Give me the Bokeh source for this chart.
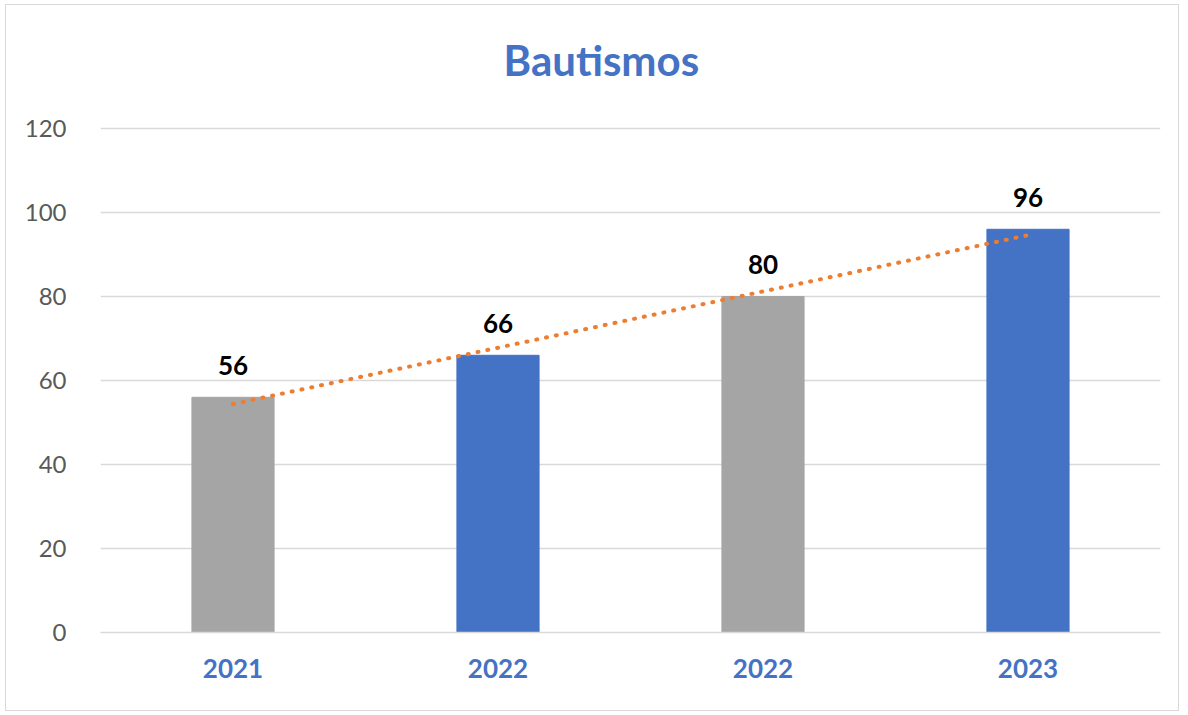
from bokeh.plotting import figure
from bokeh.models import ColumnDataSource, FixedTicker, Range1d
from bokeh.embed import file_html
from bokeh.resources import INLINE
from bokeh.core.properties import value
import numpy as np

title = "Bautismos"
categories = ["2021", "2022", "2022", "2023"]
values = [56, 66, 80, 96]
colors = ["#A5A5A5", "#4472C4", "#A5A5A5", "#4472C4"]
y_ticks = [0, 20, 40, 60, 80, 100, 120]

xs = list(range(1, len(categories) + 1))
src = ColumnDataSource(dict(x=xs, top=values, color=colors, label=[str(v) for v in values]))

# frame extends above the 120 gridline so the title can sit inside it
p = figure(width=1174, height=707, output_backend="svg", toolbar_location=None,
           x_range=Range1d(0.5, 4.5), y_range=Range1d(0, 144.52),
           min_border_left=94, min_border_right=20, min_border_top=20, min_border_bottom=80)
p.styles = {"border": "1px solid #d9d9d9", "margin-left": "5px", "margin-top": "4px"}
p.outline_line_color = None
p.background_fill_color = "white"
p.border_fill_color = "white"

p.vbar(x="x", top="top", width=0.31, color="color", source=src)

# linear trend line
coef = np.polyfit(xs, values, 1)
tx = np.array([xs[0], xs[-1]], dtype=float)
p.line(tx, np.polyval(coef, tx), line_color="#ED7D31", line_width=4, line_dash="1 9", line_cap="round")

p.text(x="x", y="top", text="label", source=src, text_align="center", text_baseline="bottom",
       y_offset=-22, text_font=value("Lato"), text_font_style="bold", text_font_size="26px",
       text_color="black")

# chart title
p.text(x=[2.39], y=[136.2], text=[title], text_align="center", text_baseline="middle",
       text_font=value("Lato"), text_font_style="bold", text_font_size="42px", text_color="#4472C4")

p.xaxis.ticker = FixedTicker(ticks=xs)
p.xaxis.major_label_overrides = {x: c for x, c in zip(xs, categories)}
p.xaxis.major_label_text_font = "Lato"
p.xaxis.major_label_text_font_style = "bold"
p.xaxis.major_label_text_font_size = "26px"
p.xaxis.major_label_text_color = "#4472C4"
p.xaxis.major_label_standoff = 20
p.xaxis.axis_line_color = "#d9d9d9"
p.xaxis.axis_line_width = 1.5
p.xaxis.major_tick_line_color = None
p.xaxis.minor_tick_line_color = None

p.yaxis.ticker = FixedTicker(ticks=y_ticks)
p.yaxis.major_label_text_font = "Lato"
p.yaxis.major_label_text_font_size = "24px"
p.yaxis.major_label_text_color = "#595959"
p.yaxis.major_label_standoff = 28
p.yaxis.axis_line_color = None
p.yaxis.major_tick_line_color = None
p.yaxis.minor_tick_line_color = None

p.xgrid.grid_line_color = None
p.ygrid.grid_line_color = "#d9d9d9"
p.ygrid.grid_line_width = 1.5

open("out.html", "w").write(file_html(p, INLINE))
